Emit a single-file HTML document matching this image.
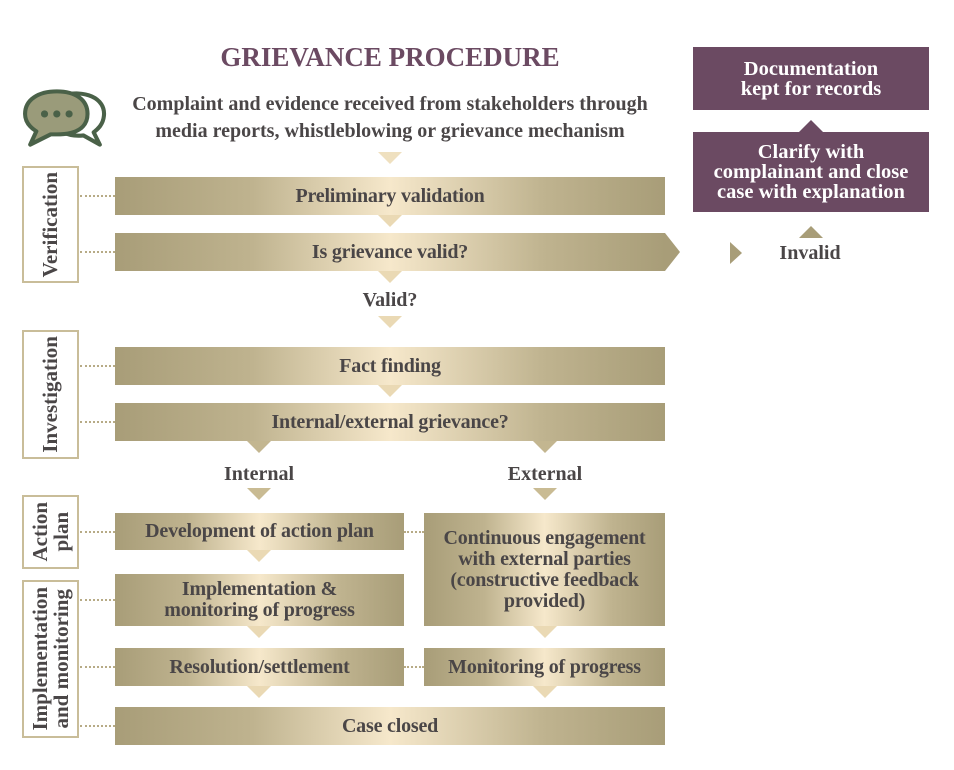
<!DOCTYPE html>
<html><head><meta charset="utf-8"><style>
body{margin:0;width:954px;height:770px;background:#fff;position:relative;overflow:hidden;font-family:"Liberation Serif",serif;font-weight:bold;color:#4a4647}
.a{position:absolute}
.bar{position:absolute;background:linear-gradient(90deg,#a89d78 0%,#bfb38f 25%,#f6e8cb 50%,#bfb38f 78%,#a89d78 100%);display:flex;align-items:center;justify-content:center;text-align:center;font-size:20px;line-height:21px;letter-spacing:-0.2px}
.tri{position:absolute;width:0;height:0;border-left:12px solid transparent;border-right:12px solid transparent;border-top:12px solid #ead9b4}
.trid{position:absolute;width:0;height:0;border-left:12px solid transparent;border-right:12px solid transparent;border-top:12px solid #c9bb93}
.lab{position:absolute;border:2px solid #c9bd99;box-sizing:border-box;display:flex;align-items:center;justify-content:center;background:#fff}
.lab span{writing-mode:vertical-rl;transform:rotate(180deg);font-size:21px;line-height:21px;text-align:center}
.dot{position:absolute;height:0;border-top:2px dotted #b7ab86}
.pur{position:absolute;background:#6b4a62;color:#fff;display:flex;align-items:center;justify-content:center;text-align:center;font-size:20.5px;line-height:20px}
.t{position:absolute;font-size:20px;text-align:center}
</style></head><body>
<div class="t" style="left:190px;top:42px;width:400px;font-size:27px;color:#6b4a62">GRIEVANCE PROCEDURE</div>
<svg class="a" style="left:22px;top:86px" width="86" height="64" viewBox="0 0 84 60">
<path d="M40 8 C60 2 82 10 80 28 C79 38 72 42 70 44 L76 56 L60 47 C50 48 44 46 40 44 Z" fill="#fff" stroke="#4a6148" stroke-width="4" stroke-linejoin="round"/>
<path d="M34 4 C52 4 64 12 64 26 C64 40 52 46 34 46 L28 46 L8 56 L14 43 C6 38 3 32 3 26 C3 12 16 4 34 4 Z" fill="#9a9b7a" stroke="#4a6148" stroke-width="4" stroke-linejoin="round"/>
<circle cx="22" cy="26" r="3.5" fill="#4a6148"/><circle cx="34" cy="26" r="3.5" fill="#4a6148"/><circle cx="46" cy="26" r="3.5" fill="#4a6148"/>
</svg>
<div class="t" style="left:100px;top:91px;width:580px;line-height:27px">Complaint and evidence received from stakeholders through<br>media reports, whistleblowing or grievance mechanism</div>
<div class="tri" style="left:378px;top:152px;border-top-color:#efe0bf"></div>

<div class="lab" style="left:22px;top:166px;width:57px;height:117px"><span>Verification</span></div>
<div class="lab" style="left:22px;top:330px;width:57px;height:129px"><span>Investigation</span></div>
<div class="lab" style="left:22px;top:495px;width:57px;height:74px"><span>Action<br>plan</span></div>
<div class="lab" style="left:22px;top:580px;width:57px;height:158px"><span>Implementation<br>and monitoring</span></div>

<div class="dot" style="left:80px;top:195px;width:35px"></div>
<div class="dot" style="left:80px;top:251px;width:35px"></div>
<div class="dot" style="left:80px;top:365px;width:35px"></div>
<div class="dot" style="left:80px;top:421px;width:35px"></div>
<div class="dot" style="left:80px;top:531px;width:35px"></div>
<div class="dot" style="left:80px;top:599px;width:35px"></div>
<div class="dot" style="left:80px;top:666px;width:35px"></div>
<div class="dot" style="left:80px;top:725px;width:35px"></div>
<div class="dot" style="left:404px;top:531px;width:20px"></div>
<div class="dot" style="left:404px;top:666px;width:20px"></div>

<div class="bar" style="left:115px;top:177px;width:550px;height:38px">Preliminary validation</div>
<div class="tri" style="left:378px;top:215px"></div>
<div class="bar" style="left:115px;top:233px;width:550px;height:38px">Is grievance valid?</div>
<div class="a" style="left:665px;top:233px;width:0;height:0;border-top:19px solid transparent;border-bottom:19px solid transparent;border-left:15px solid #a89d78"></div>
<div class="tri" style="left:378px;top:271px"></div>
<div class="t" style="left:340px;top:289px;width:100px">Valid?</div>
<div class="trid" style="left:378px;top:316px;border-top-color:#ead9b4"></div>
<div class="bar" style="left:115px;top:347px;width:550px;height:38px">Fact finding</div>
<div class="tri" style="left:378px;top:385px"></div>
<div class="bar" style="left:115px;top:403px;width:550px;height:38px">Internal/external grievance?</div>
<div class="trid" style="left:247px;top:441px;border-top-color:#c3b690"></div>
<div class="trid" style="left:533px;top:441px;border-top-color:#c3b690"></div>
<div class="t" style="left:199px;top:463px;width:120px">Internal</div>
<div class="t" style="left:485px;top:463px;width:120px">External</div>
<div class="trid" style="left:247px;top:488px"></div>
<div class="trid" style="left:533px;top:488px"></div>

<div class="bar" style="left:115px;top:513px;width:289px;height:37px">Development of action plan</div>
<div class="tri" style="left:247px;top:550px"></div>
<div class="bar" style="left:115px;top:574px;width:289px;height:52px">Implementation &amp;<br>monitoring of progress</div>
<div class="tri" style="left:247px;top:626px"></div>
<div class="bar" style="left:115px;top:648px;width:289px;height:38px">Resolution/settlement</div>
<div class="tri" style="left:247px;top:686px"></div>
<div class="bar" style="left:424px;top:513px;width:241px;height:113px;line-height:21px">Continuous engagement<br>with external parties<br>(constructive feedback<br>provided)</div>
<div class="tri" style="left:533px;top:626px"></div>
<div class="bar" style="left:424px;top:648px;width:241px;height:38px">Monitoring of progress</div>
<div class="tri" style="left:533px;top:686px"></div>
<div class="bar" style="left:115px;top:707px;width:550px;height:38px">Case closed</div>

<div class="pur" style="left:693px;top:47px;width:236px;height:63px">Documentation<br>kept for records</div>
<div class="a" style="left:799px;top:120px;width:0;height:0;border-left:12px solid transparent;border-right:12px solid transparent;border-bottom:12px solid #6b4a62"></div>
<div class="pur" style="left:693px;top:132px;width:236px;height:80px">Clarify with<br>complainant and close<br>case with explanation</div>
<div class="a" style="left:799px;top:226px;width:0;height:0;border-left:12px solid transparent;border-right:12px solid transparent;border-bottom:12px solid #a89d78"></div>
<div class="a" style="left:730px;top:242px;width:0;height:0;border-top:11px solid transparent;border-bottom:11px solid transparent;border-left:12px solid #a89d78"></div>
<div class="t" style="left:760px;top:242px;width:100px">Invalid</div>
</body></html>
